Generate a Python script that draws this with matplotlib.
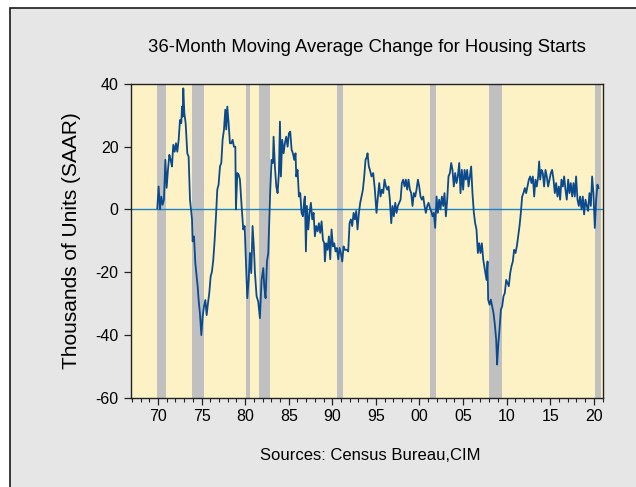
import numpy as np
import matplotlib
matplotlib.use('Agg')
import matplotlib.pyplot as plt
from matplotlib.patches import Rectangle

plt.rcParams['font.family'] = ['Liberation Sans', 'DejaVu Sans']
plt.rcParams['axes.unicode_minus'] = False

# 36-month moving average change (decimal year, thousands of units)
years = [
    1969.92, 1970.07, 1970.23, 1970.38, 1970.53, 1970.68, 1970.84, 1970.99, 1971.14, 1971.30,
    1971.45, 1971.60, 1971.75, 1971.91, 1972.06, 1972.21, 1972.37, 1972.52, 1972.67, 1972.75,
    1972.83, 1972.90, 1973.02, 1973.17, 1973.36, 1973.51, 1973.67, 1973.78, 1973.90, 1973.97,
    1974.13, 1974.28, 1974.43, 1974.55, 1974.66, 1974.81, 1974.97, 1975.12, 1975.27, 1975.43,
    1975.58, 1975.73, 1975.88, 1976.04, 1976.19, 1976.34, 1976.50, 1976.65, 1976.80, 1976.95,
    1977.11, 1977.26, 1977.41, 1977.57, 1977.72, 1977.83, 1977.95, 1978.10, 1978.25, 1978.41,
    1978.56, 1978.71, 1978.87, 1978.94, 1979.10, 1979.25, 1979.40, 1979.59, 1979.78, 1979.94,
    1980.09, 1980.24, 1980.40, 1980.55, 1980.70, 1980.85, 1981.01,
    1981.12, 1981.31, 1981.50, 1981.69, 1981.88, 1982.08, 1982.19, 1982.34, 1982.50, 1982.65,
    1982.76, 1982.88, 1983.03, 1983.18, 1983.26, 1983.41, 1983.57, 1983.72, 1983.87, 1983.99,
    1984.10, 1984.25, 1984.41, 1984.56, 1984.71, 1984.87, 1985.02, 1985.17, 1985.33, 1985.48,
    1985.63, 1985.78, 1985.86, 1986.01, 1986.17, 1986.32, 1986.47, 1986.63, 1986.78, 1986.85,
    1986.97, 1987.08, 1987.24, 1987.39, 1987.54, 1987.70, 1987.85, 1988.00, 1988.15, 1988.31,
    1988.46, 1988.61, 1988.77, 1988.92, 1989.07, 1989.15, 1989.30, 1989.45, 1989.61, 1989.76,
    1989.91, 1990.07, 1990.22, 1990.37, 1990.52, 1990.68, 1990.83, 1990.98, 1991.14, 1991.29,
    1991.44, 1991.67, 1991.82, 1991.98, 1992.13, 1992.28, 1992.44, 1992.59, 1992.74, 1992.89,
    1993.05, 1993.20, 1993.35, 1993.51, 1993.66, 1993.81, 1993.97, 1994.04, 1994.19,
    1994.31, 1994.50, 1994.69, 1994.88, 1995.07, 1995.23, 1995.38, 1995.53, 1995.69, 1995.84,
    1995.99, 1996.15, 1996.30, 1996.45, 1996.60, 1996.76, 1996.91, 1997.06, 1997.22, 1997.37,
    1997.52, 1997.67, 1997.83, 1997.98, 1998.13, 1998.29, 1998.44, 1998.59, 1998.74, 1998.90,
    1999.05, 1999.20, 1999.36, 1999.51, 1999.66, 1999.82, 1999.97, 2000.12, 2000.27, 2000.43,
    2000.58, 2000.73, 2000.89, 2001.04, 2001.19, 2001.34, 2001.50, 2001.65, 2001.80, 2001.96,
    2002.11, 2002.26, 2002.41, 2002.57, 2002.72, 2002.87, 2003.03, 2003.18, 2003.33, 2003.49,
    2003.64, 2003.79, 2003.94, 2004.10, 2004.25, 2004.40, 2004.56, 2004.71, 2004.86, 2005.01,
    2005.17, 2005.32, 2005.47, 2005.63, 2005.78, 2005.93, 2006.08, 2006.24, 2006.39, 2006.54,
    2006.70, 2006.85, 2007.00, 2007.16, 2007.31,
    2007.50, 2007.69, 2007.81, 2007.88, 2008.04, 2008.19, 2008.34, 2008.49, 2008.65, 2008.80,
    2008.91, 2009.03, 2009.18, 2009.34, 2009.49, 2009.64, 2009.79, 2009.95, 2010.10, 2010.25,
    2010.41, 2010.56, 2010.71, 2010.86, 2011.02, 2011.17, 2011.32, 2011.48, 2011.63, 2011.78,
    2011.93, 2012.09, 2012.24, 2012.39, 2012.55, 2012.70, 2012.85, 2013.01, 2013.16, 2013.31,
    2013.46, 2013.62, 2013.73, 2013.85, 2014.00, 2014.15, 2014.30, 2014.46, 2014.61, 2014.76,
    2014.92, 2015.07, 2015.22, 2015.38, 2015.53, 2015.68, 2015.83, 2015.99, 2016.14, 2016.29,
    2016.45, 2016.60, 2016.75, 2016.90, 2017.06, 2017.21, 2017.36, 2017.52, 2017.67, 2017.82,
    2017.97, 2018.13, 2018.28, 2018.43, 2018.59, 2018.74, 2018.89, 2019.05, 2019.20, 2019.35,
    2019.50, 2019.66, 2019.81, 2019.96, 2020.12, 2020.27, 2020.42, 2020.54,
]
change = [
    0.4, 7.3, 0.0, 4.1, 1.5, 3.1, 15.8, 6.9, 12.6, 17.4,
    15.8, 13.7, 20.6, 18.4, 21.1, 18.4, 22.2, 28.5, 27.5, 32.8,
    29.6, 38.6, 30.7, 27.5, 17.9, 16.8, 3.1, 0.0, -3.2, -10.2,
    -8.6, -17.1, -21.4, -24.6, -28.9, -33.2, -40.1, -34.2, -31.0, -28.9,
    -33.7, -30.0, -26.7, -21.4, -19.8, -16.1, -9.7, -2.2, 6.3, 7.9,
    13.7, 14.8, 22.2, 25.5, 31.8, 25.5, 32.8, 27.5, 21.1, 21.1,
    22.2, 20.0, 20.0, 0.0, 11.6, 11.1, 9.5, 1.1, -6.4, -5.3,
    -17.1, -28.3, -22.5, -13.9, -20.3, -5.3, -12.8,
    -20.2, -27.7, -29.4, -34.7, -22.5, -18.7, -24.6, -28.3, -16.6, -13.9,
    -4.4, 6.3, 15.8, 14.8, 23.2, 13.7, 7.3, 5.2, 11.6, 28.0,
    10.5, 22.2, 17.9, 21.1, 23.2, 20.0, 24.3, 24.8, 19.0, 17.9,
    15.8, 17.9, 10.5, 12.6, 4.1, 5.2, -1.1, -2.2, 3.1, 4.1,
    -13.4, 1.1, -6.4, -1.1, 2.1, -3.2, -1.1, -8.6, -5.3, -7.0,
    -4.4, -7.5, -3.8, -9.7, -10.8, -16.6, -10.8, -12.9, -8.6, -15.9,
    -6.4, -11.8, -10.8, -13.4, -12.3, -15.9, -12.3, -13.9, -16.6, -11.8,
    -12.9, -12.9, -13.4, -4.4, -3.2, -5.3, -1.1, -3.2, -0.5, -6.4,
    -1.1, 2.1, 4.1, 6.3, 10.5, 15.8, 16.8, 17.9, 13.7,
    12.6, 10.5, 11.6, 6.3, -1.1, 4.1, 8.4, 4.1, 6.3, 5.2,
    9.5, 7.3, 6.3, 7.3, 3.1, -4.4, 1.1, -2.2, 2.1, -1.1,
    1.1, 2.1, 3.1, 8.4, 9.5, 7.3, 9.5, 6.3, 9.5, 6.3,
    5.2, 1.1, 5.2, 4.1, 6.3, 9.5, 7.3, 4.1, 3.1, 4.1,
    1.1, -1.1, 1.1, 2.1, 0.5, -0.5, -2.2, -1.1, -5.9, 4.1,
    -1.1, 3.1, 0.0, 4.1, 1.1, 5.2, -2.2, 3.1, 10.5, 11.6,
    14.8, 12.6, 7.3, 11.6, 8.4, 10.5, 14.8, 5.2, 12.6, 6.3,
    12.6, 9.5, 12.6, 7.3, 10.5, 13.7, 5.2, -1.1, -4.4, -6.4,
    -13.9, -10.8, -13.9, -10.8, -15.9,
    -19.2, -22.5, -16.6, -28.8, -30.4, -28.8, -30.9, -33.0, -36.8, -41.5,
    -49.5, -43.6, -38.3, -32.0, -30.9, -27.7, -26.7, -22.5, -23.5, -24.5,
    -20.3, -18.1, -16.6, -12.9, -13.9, -11.8, -8.6, -5.3, -1.1, 4.1,
    5.2, 6.8, 5.2, 7.3, 9.5, 10.5, 8.4, 10.5, 4.1, 9.5,
    7.3, 10.5, 15.3, 9.5, 12.6, 11.6, 7.3, 12.6, 10.5, 7.3,
    9.5, 11.6, 12.6, 9.5, 5.2, 8.4, 4.1, 7.3, 3.1, 9.5,
    7.3, 10.5, 6.3, 3.1, 9.5, 5.2, 8.4, 4.1, 8.4, 4.1,
    10.5, 3.1, 1.1, 4.1, 0.0, 4.1, -1.6, 3.1, 1.1, -0.5,
    5.2, 1.1, 10.5, 5.2, -5.9, 3.1, 7.9, 6.8,
]

# recession shading (start, end)
rec_start = [1969.92, 1973.92, 1980.08, 1981.58, 1990.58, 2001.25, 2007.96, 2020.12]
rec_end = [1970.88, 1975.25, 1980.55, 1982.88, 1991.22, 2001.88, 2009.49, 2020.85]

yticks = [-60, -40, -20, 0, 20, 40]
xmajor = list(range(1970, 2021, 5))
xlabels = ['70', '75', '80', '85', '90', '95', '00', '05', '10', '15', '20']

fig = plt.figure(figsize=(6.36, 4.87), dpi=100, facecolor='white')
frame = Rectangle((9.5 / 636, -0.02), 1.0, 1 - 7.5 / 487 + 0.02, transform=fig.transFigure,
                  facecolor='#e6e6e6', edgecolor='#1a1a1a', lw=1.2, zorder=-10)
fig.add_artist(frame)

ax = fig.add_axes([131 / 636, (487 - 397.5) / 487, 471.5 / 636, 313.5 / 487])
ax.set_facecolor('#fdf2c5')

for s, e in zip(rec_start, rec_end):
    ax.axvspan(s, e, color='#c0c0c0', lw=0, zorder=1)

ax.axhline(0, color='#1c84c6', lw=1.0, zorder=2)
ax.plot(years, change, color='#0b4a8c', lw=1.3, zorder=3)

ax.set_xlim(1966.9, 2020.99)
ax.set_ylim(-60, 40)
ax.set_yticks(yticks)
ax.set_xticks(xmajor)
ax.set_xticklabels(xlabels)
ax.set_xticks(list(range(1967, 2022)), minor=True)

ax.tick_params(axis='both', which='major', direction='out', length=5, width=0.9,
               labelsize=11.5, color='#222222')
ax.tick_params(axis='x', which='major', pad=3)
ax.tick_params(axis='y', which='major', pad=4)
ax.tick_params(axis='x', which='minor', direction='out', length=3, width=0.8, color='#222222')
ax.tick_params(axis='y', which='minor', left=False)
for sp in ax.spines.values():
    sp.set_color('#222222')
    sp.set_linewidth(1.0)

ax.set_ylabel('Thousands of Units (SAAR)', fontsize=15, labelpad=10)

fig.text(367 / 636, 1 - 47 / 487, '36-Month Moving Average Change for Housing Starts',
         ha='center', va='center', fontsize=13.3)
fig.text(370 / 636, 1 - 455 / 487, 'Sources: Census Bureau,CIM',
         ha='center', va='center', fontsize=12)

fig.savefig('out.png', dpi=100, facecolor=fig.get_facecolor())
